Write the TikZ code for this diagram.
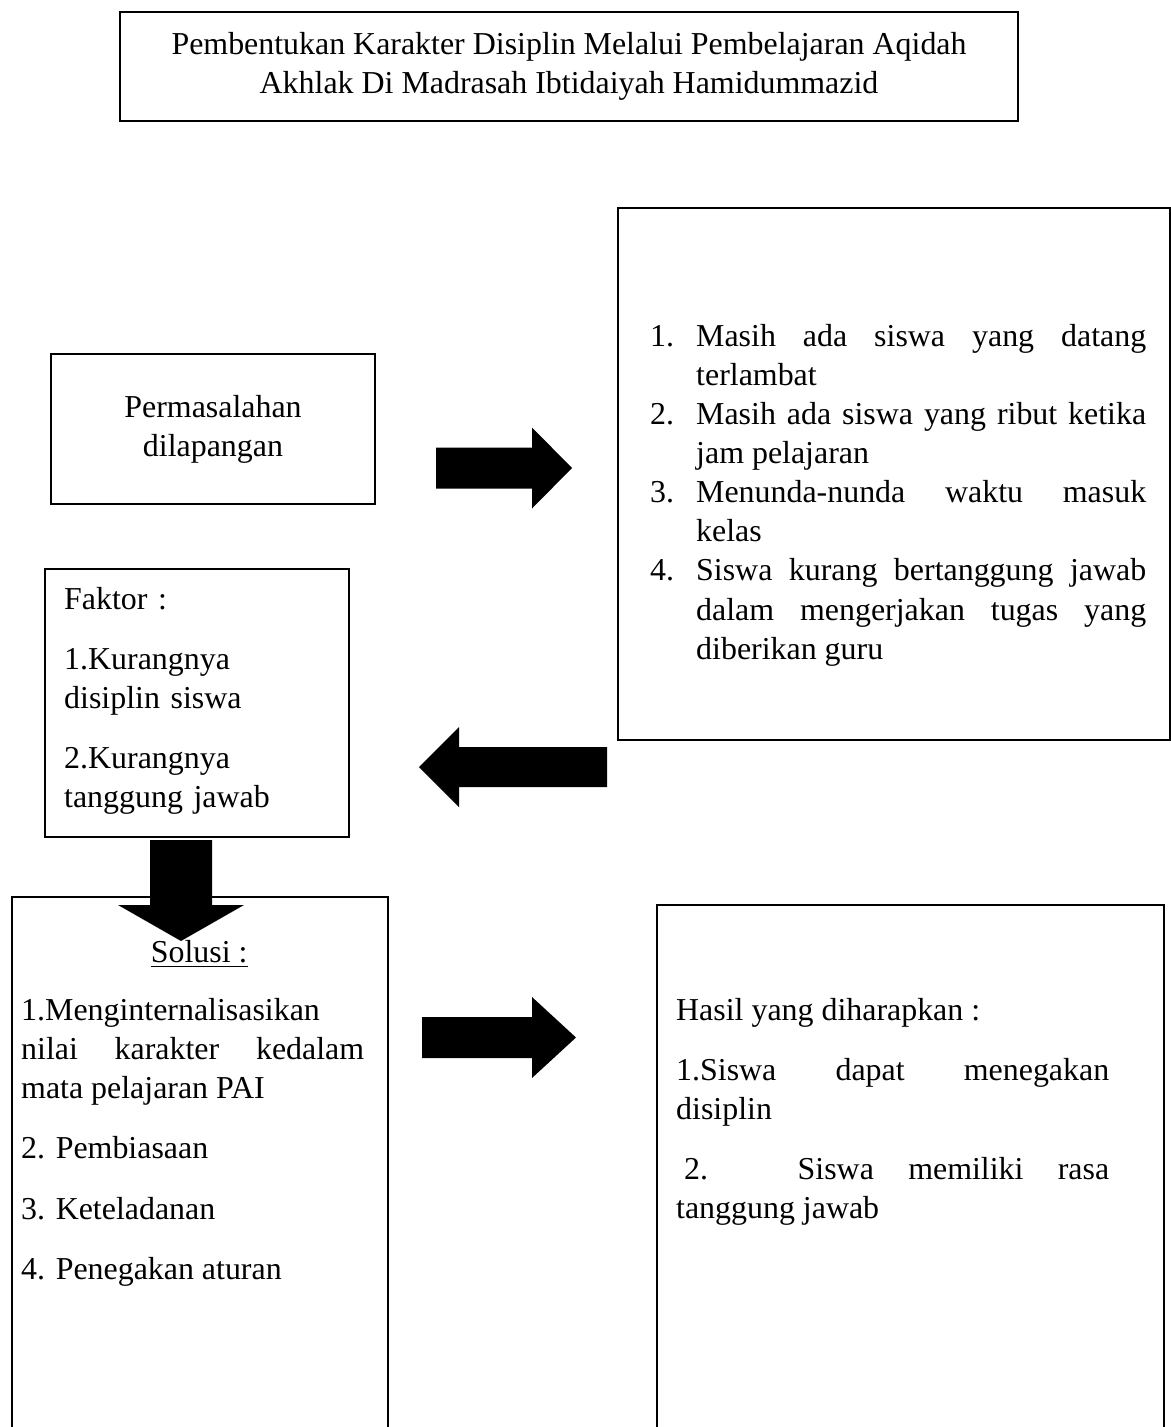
\documentclass[tikz,border=0pt]{standalone}
\usepackage{fontspec}
\setmainfont{Liberation Serif}
\usetikzlibrary{positioning, calc}
\newlength\pxu
\setlength\pxu{0.376pt}
\setlength\parindent{0pt}
\setlength\parskip{0pt}
\newcommand\itemgap{\par\vspace{7.9pt}}
\tikzset{
  box/.style={draw=black, line width=1pt, inner sep=0pt, align=center,
              minimum width=#1},
  txt/.style={inner sep=0pt, anchor=north west, align=justify, text width=#1},
  blk/.style={fill=black},
}

\begin{document}
\begin{tikzpicture}[x=0.376pt, y=-0.376pt, font=\fontsize{12}{14.7}\selectfont]
  \useasboundingbox (0,0) rectangle (1171,1427);
  \clip (0,0) rectangle (1171,1427);
  %% Title
  \node[box=898\pxu, minimum height=109\pxu] (title) at (569,66.5)
    {Pembentukan Karakter Disiplin Melalui Pembelajaran Aqidah\\Akhlak Di Madrasah Ibtidaiyah Hamidummazid};
  %% Problem and issues
  \node[box=324\pxu, minimum height=150\pxu] (problem) at (213,429)
    {Permasalahan\\dilapangan};
  \node[box=552\pxu, minimum height=532\pxu] (issues) at (894,474) {};
  \node[txt=496\pxu] (issuestxt) at ([shift={(33,117)}]issues.north west) {%
    \hangindent=17.3pt\hangafter=1\makebox[17.3pt][l]{1.}Masih ada siswa yang datang\linebreak terlambat\par
    \hangindent=17.3pt\hangafter=1\makebox[17.3pt][l]{2.}Masih ada siswa yang ribut ketika\linebreak jam pelajaran\par
    \hangindent=17.3pt\hangafter=1\makebox[17.3pt][l]{3.}Menunda-nunda waktu masuk\linebreak kelas\par
    \hangindent=17.3pt\hangafter=1\makebox[17.3pt][l]{4.}Siswa kurang bertanggung jawab\linebreak dalam mengerjakan tugas yang\linebreak diberikan guru\par};
  %% Factors
  \node[box=304\pxu, minimum height=268\pxu] (factor) at (197,703) {};
  \node[txt=280\pxu, align=left] (factortxt) at ([shift={(20,19)}]factor.north west)
    {Faktor :\\[7.9pt] 1.Kurangnya\\disiplin siswa\\[7.9pt] 2.Kurangnya\\tanggung jawab};
  %% Solution
  \node[box=376\pxu, minimum height=543\pxu] (solution) at (200,1168.5) {};
  \node[txt=343\pxu] (solutiontxt) at ([shift={(10,44)}]solution.north west) {%
    {\centering\hspace*{13\pxu}\underline{Solusi :}\par}\vspace{7.2pt}
    1.Menginternalisasikan\linebreak nilai karakter kedalam\linebreak mata pelajaran PAI\itemgap
    2. Pembiasaan\itemgap
    3. Keteladanan\itemgap
    4. Penegakan aturan\par};
  %% Expected outcome
  \node[box=507\pxu, minimum height=535\pxu] (outcome) at (910.5,1172.5) {};
  \node[txt=433\pxu] (outcometxt) at ([shift={(20,94)}]outcome.north west) {%
    Hasil yang diharapkan :\itemgap
    1.Siswa dapat menegakan\linebreak disiplin\itemgap
    \hspace*{3pt}2. Siswa memiliki rasa\linebreak tanggung jawab\par};
  %% Block arrows
  \coordinate (r1) at (436,468);
  \coordinate (l1) at (607,767);
  \coordinate (d1) at (181,840);
  \coordinate (r2) at (422,1037.5);
  \fill[blk] (r1) ++(0,-20.5) -- ++(96,0) -- ++(0,-20) -- ++(40,40.5)
    -- ++(-40,40.5) -- ++(0,-20) -- ++(-96,0) -- cycle;
  \fill[blk] (l1) ++(0,-20) -- ++(-148,0) -- ++(0,-20) -- ++(-40,40)
    -- ++(40,40) -- ++(0,-20) -- ++(148,0) -- cycle;
  \fill[blk] (d1) ++(-31,0) -- ++(0,65) -- ++(-32,0) -- ++(63,36)
    -- ++(63,-36) -- ++(-32,0) -- ++(0,-65) -- cycle;
  \fill[blk] (r2) ++(0,-20.5) -- ++(110,0) -- ++(0,-20) -- ++(44,40.5)
    -- ++(-44,40.5) -- ++(0,-20) -- ++(-110,0) -- cycle;
\end{tikzpicture}
\end{document}
